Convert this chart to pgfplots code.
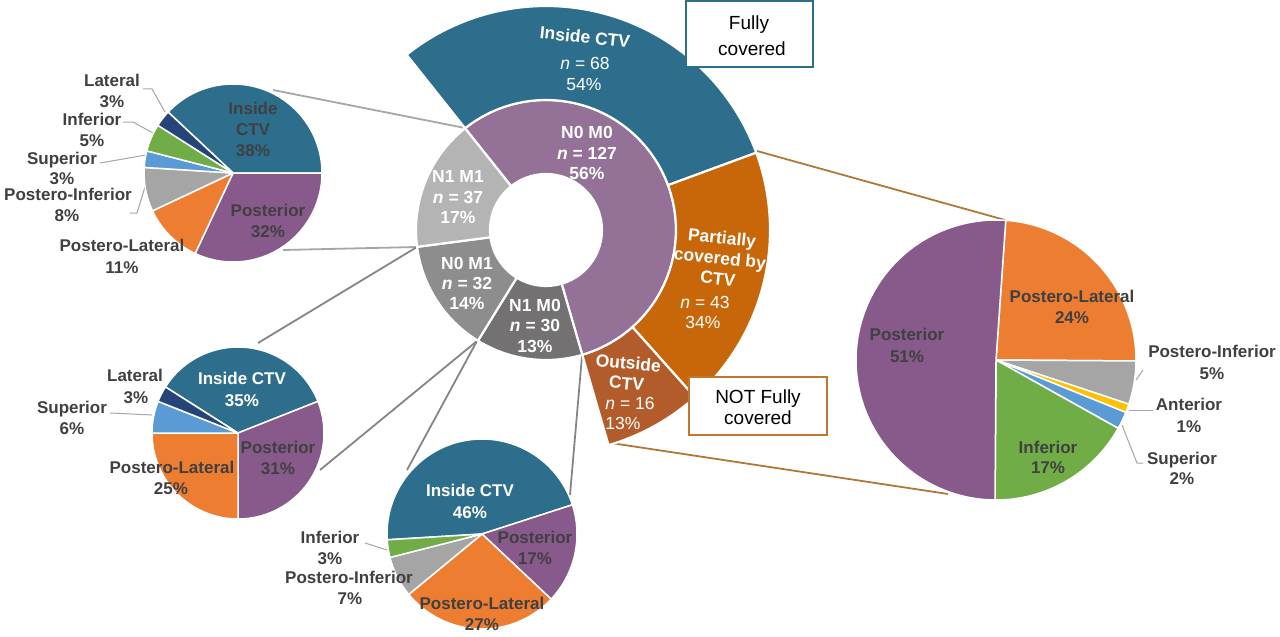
\documentclass[border=0pt]{standalone}
\usepackage{pgfplots}
\pgfplotsset{compat=1.18}
\usepackage{pgfplotstable}
\usepackage{fontspec}
\setmainfont{Liberation Sans}

\definecolor{cTeal}{HTML}{2D6E8C}
\definecolor{cPost}{HTML}{875A8B}
\definecolor{cPL}{HTML}{ED7D31}
\definecolor{cPI}{HTML}{A5A5A5}
\definecolor{cSup}{HTML}{5B9BD5}
\definecolor{cInf}{HTML}{70AD47}
\definecolor{cLat}{HTML}{264478}
\definecolor{cAnt}{HTML}{FFC000}
\definecolor{cNOMO}{HTML}{947196}
\definecolor{cNIMI}{HTML}{B4B4B4}
\definecolor{cNOMI}{HTML}{8D8D8D}
\definecolor{cNIMO}{HTML}{737171}
\definecolor{cPart}{HTML}{C8660A}
\definecolor{cOut}{HTML}{B35C2B}
\definecolor{cTxt}{HTML}{404040}
\definecolor{cLineA}{HTML}{A6A6A6}
\definecolor{cLineB}{HTML}{858585}
\definecolor{cBrown}{HTML}{B07838}
\definecolor{cBoxO}{HTML}{C0782F}

% ---- data ----
\pgfplotstableread{
pct col
38 cTeal
32 cPost
11 cPL
8 cPI
3 cSup
5 cInf
3 cLat
}\pieNIMI
\pgfplotstableread{
pct col
35 cTeal
31 cPost
25 cPL
6 cSup
3 cLat
}\pieNOMI
\pgfplotstableread{
pct col
46 cTeal
17 cPost
27 cPL
7 cPI
3 cInf
}\pieNIMO
\pgfplotstableread{
pct col
24 cPL
5 cPI
1 cAnt
2 cSup
17 cInf
51 cPost
}\pieNot
\pgfplotstableread{
n col
127 cNOMO
30 cNIMO
32 cNOMI
37 cNIMI
}\ringIn
\pgfplotstableread{
n col
68 cTeal
43 cPart
16 cOut
}\ringOut

% #1 table, #2 cx, #3 cy, #4 r, #5 start angle
\newcommand\drawpie[5]{%
  \pgfplotstablegetrowsof{#1}\pgfmathtruncatemacro\nrows{\pgfplotsretval-1}%
  \xdef\curang{#5}%
  \foreach \i in {0,...,\nrows}{%
    \pgfplotstablegetelem{\i}{pct}\of{#1}\let\val\pgfplotsretval
    \pgfplotstablegetelem{\i}{col}\of{#1}\let\col\pgfplotsretval
    \pgfmathsetmacro\endang{\curang-\val*3.6}%
    \fill[fill=\col, draw=white, line width=1.5bp, line join=round]
      (axis cs:#2,#3) -- ++(\curang:#4 bp)
      arc[start angle=\curang, end angle=\endang, radius=#4 bp] -- cycle;
    \xdef\curang{\endang}%
  }}
% #1 table, #2 cx, #3 cy, #4 rin, #5 rout, #6 start, #7 total
\newcommand\drawring[7]{%
  \pgfplotstablegetrowsof{#1}\pgfmathtruncatemacro\nrows{\pgfplotsretval-1}%
  \xdef\curang{#6}%
  \pgfmathsetmacro\dr{#5-#4}%
  \foreach \i in {0,...,\nrows}{%
    \pgfplotstablegetelem{\i}{n}\of{#1}\let\val\pgfplotsretval
    \pgfplotstablegetelem{\i}{col}\of{#1}\let\col\pgfplotsretval
    \pgfmathsetmacro\endang{\curang-\val/#7*360}%
    \pgfmathsetmacro\backang{\endang+180}%
    \fill[fill=\col, draw=white, line width=2.2bp, line join=round]
      (axis cs:#2,#3) ++(\curang:#5 bp)
      arc[start angle=\curang, end angle=\endang, radius=#5 bp]
      -- ++(\backang:\dr bp)
      arc[start angle=\endang, end angle=\curang, radius=#4 bp] -- cycle;
    \xdef\curang{\endang}%
  }}

\tikzset{
  lab/.style={inner sep=0pt, text height=12.2bp, text depth=0bp,
    font=\fontsize{17bp}{20bp}\selectfont\bfseries, text=cTxt},
  wlab/.style={lab, text=white},
  mlab/.style={inner sep=0pt, text height=12.5bp, text depth=0bp,
    font=\fontsize{17.5bp}{20bp}\selectfont\bfseries, text=white},
  mreg/.style={inner sep=0pt, text height=12.5bp, text depth=0bp,
    font=\fontsize{17.5bp}{20bp}\selectfont, text=white},
  mblock/.style={inner sep=0pt, align=center,
    font=\fontsize{17.5bp}{20.5bp}\selectfont\bfseries, text=white},
  btxt/.style={inner sep=0pt, text height=13.6bp, text depth=0bp,
    font=\fontsize{19bp}{22bp}\selectfont, text=black},
}
\newcommand\nn{{\itshape n}}

\begin{document}
\begin{tikzpicture}
\begin{axis}[width=1280bp, height=637bp, scale only axis,
  xmin=0, xmax=1280, ymin=0, ymax=637, y dir=reverse,
  axis lines=none, ticks=none, clip=false]

% connector lines
\addplot[draw=cLineA, line width=1.8bp, no markers] coordinates {(273,90) (465,128)};
\addplot[draw=cLineA, line width=1.8bp, no markers] coordinates {(283,250) (417,247)};
\addplot[draw=cLineB, line width=1.8bp, no markers] coordinates {(258,343) (417,247)};
\addplot[draw=cLineB, line width=1.8bp, no markers] coordinates {(320,470) (477,341)};
\addplot[draw=cLineB, line width=1.8bp, no markers] coordinates {(407,470) (477,341)};
\addplot[draw=cLineB, line width=1.8bp, no markers] coordinates {(570,495) (582,356)};
\addplot[draw=cBrown, line width=1.8bp, no markers] coordinates {(757,151) (1005,220)};
\addplot[draw=cBrown, line width=1.8bp, no markers] coordinates {(611,443) (948,494)};

% leader lines
\addplot[draw=cLineA, line width=1bp, no markers] coordinates {(143,89) (152,89) (165,112)};
\addplot[draw=cLineA, line width=1bp, no markers] coordinates {(123,122) (133,122) (153,133)};
\addplot[draw=cLineA, line width=1bp, no markers] coordinates {(100,163) (146,155)};
\addplot[draw=cLineA, line width=1bp, no markers] coordinates {(130,213) (137,213) (145,187)};
\addplot[draw=cLineA, line width=1bp, no markers] coordinates {(110,413) (152,415)};
\addplot[draw=cLineA, line width=1bp, no markers] coordinates {(365,543) (387,550)};
\addplot[draw=cLineA, line width=1bp, no markers] coordinates {(1143,370) (1136,380)};
\addplot[draw=cLineA, line width=1bp, no markers] coordinates {(1153,410) (1129,410)};
\addplot[draw=cLineA, line width=1bp, no markers] coordinates {(1143,463) (1137,463) (1122,425)};

\pgfplotsextra{%
  \drawpie{\pieNIMI}{233}{173}{89}{136.8}%
  \drawpie{\pieNOMI}{238}{433}{86}{147.6}%
  \drawpie{\pieNIMO}{482}{534}{95}{183.5}%
  \drawpie{\pieNot}{996}{360}{140}{86}%
  \drawring{\ringIn}{546}{230}{56}{130}{128.5}{226}%
  \drawring{\ringOut}{546}{230}{130}{224}{128.5}{226}%
}

% boxes
\node[draw=cTeal, line width=1.5bp, fill=white, minimum width=127bp, minimum height=66bp, inner sep=0pt] at (axis cs:749.5,34) {};
\node[btxt] at (axis cs:749,23) {Fully};
\node[btxt] at (axis cs:752,49) {covered};
\node[draw=cBoxO, line width=1.5bp, fill=white, minimum width=138bp, minimum height=58bp, inner sep=0pt] at (axis cs:758,406) {};
\node[btxt] at (axis cs:758,397) {NOT Fully};
\node[btxt] at (axis cs:758,418) {covered};

% main sunburst labels
\node[mlab, rotate=-6] at (axis cs:585,37) {Inside CTV};
\node[mreg] at (axis cs:585,63) {\nn\ = 68};
\node[mreg] at (axis cs:584,84) {54\%};
\node[mlab] at (axis cs:587,132) {N0 M0};
\node[mlab] at (axis cs:587,153) {\nn\ = 127};
\node[mlab] at (axis cs:587,173) {56\%};
\node[mlab] at (axis cs:458,176) {N1 M1};
\node[mlab] at (axis cs:458,197) {\nn\ = 37};
\node[mlab] at (axis cs:458,217) {17\%};
\node[mlab] at (axis cs:467,263) {N0 M1};
\node[mlab] at (axis cs:467,283) {\nn\ = 32};
\node[mlab] at (axis cs:467,303) {14\%};
\node[mlab] at (axis cs:535,305) {N1 M0};
\node[mlab] at (axis cs:535,325) {\nn\ = 30};
\node[mlab] at (axis cs:535,346) {13\%};
\node[mblock, rotate=-6] at (axis cs:720,258) {Partially\\covered by\\CTV};
\node[mreg] at (axis cs:705,302) {\nn\ = 43};
\node[mreg] at (axis cs:703,322) {34\%};
\node[mblock, rotate=-5] at (axis cs:627.5,373) {Outside\\CTV};
\node[mreg] at (axis cs:630,403) {\nn\ = 16};
\node[mreg] at (axis cs:623,423) {13\%};

% top-left pie labels
\node[lab] at (axis cs:253,108) {Inside};
\node[lab] at (axis cs:253,129) {CTV};
\node[lab] at (axis cs:253,150) {38\%};
\node[lab] at (axis cs:268,210) {Posterior};
\node[lab] at (axis cs:268,231) {32\%};
\node[lab] at (axis cs:112,80) {Lateral};
\node[lab] at (axis cs:112,101) {3\%};
\node[lab] at (axis cs:92,119) {Inferior};
\node[lab] at (axis cs:92,140) {5\%};
\node[lab] at (axis cs:62,158) {Superior};
\node[lab] at (axis cs:62,178) {3\%};
\node[lab] at (axis cs:68,194) {Postero-Inferior};
\node[lab] at (axis cs:67,215) {8\%};
\node[lab] at (axis cs:122,245) {Postero-Lateral};
\node[lab] at (axis cs:122,267) {11\%};

% middle-left pie labels
\node[wlab] at (axis cs:242,378) {Inside CTV};
\node[wlab] at (axis cs:242,400) {35\%};
\node[lab] at (axis cs:278,447) {Posterior};
\node[lab] at (axis cs:278,468) {31\%};
\node[lab] at (axis cs:172,467) {Postero-Lateral};
\node[lab] at (axis cs:171,488) {25\%};
\node[lab] at (axis cs:135,375) {Lateral};
\node[lab] at (axis cs:136,397) {3\%};
\node[lab] at (axis cs:72,407) {Superior};
\node[lab] at (axis cs:72,428) {6\%};

% bottom pie labels
\node[wlab] at (axis cs:470,490) {Inside CTV};
\node[wlab] at (axis cs:470,512) {46\%};
\node[lab] at (axis cs:535,537) {Posterior};
\node[lab] at (axis cs:535,558) {17\%};
\node[lab] at (axis cs:482,603) {Postero-Lateral};
\node[lab] at (axis cs:482,624) {27\%};
\node[lab] at (axis cs:330,537) {Inferior};
\node[lab] at (axis cs:330,558) {3\%};
\node[lab] at (axis cs:349,577) {Postero-Inferior};
\node[lab] at (axis cs:350,598) {7\%};

% right pie labels
\node[lab] at (axis cs:1072,296) {Postero-Lateral};
\node[lab] at (axis cs:1072,317) {24\%};
\node[lab] at (axis cs:907,334) {Posterior};
\node[lab] at (axis cs:907,356) {51\%};
\node[lab] at (axis cs:1048,447) {Inferior};
\node[lab] at (axis cs:1048,467) {17\%};
\node[lab] at (axis cs:1212,351) {Postero-Inferior};
\node[lab] at (axis cs:1212,373) {5\%};
\node[lab] at (axis cs:1189,404) {Anterior};
\node[lab] at (axis cs:1189,426) {1\%};
\node[lab] at (axis cs:1182,458) {Superior};
\node[lab] at (axis cs:1182,478) {2\%};
\end{axis}
\pgfresetboundingbox
\path (current axis.south west) rectangle (current axis.north east);
\end{tikzpicture}
\end{document}
